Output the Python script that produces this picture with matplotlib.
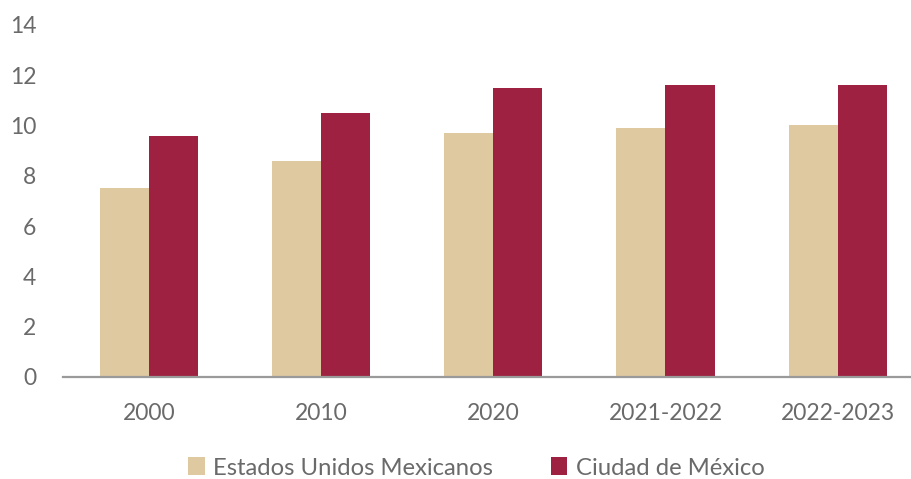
import numpy as np
import matplotlib.pyplot as plt

# Data
categories = ['2000', '2010', '2020', '2021-2022', '2022-2023']
estados_unidos = [7.5, 8.6, 9.7, 9.9, 10.0]
ciudad_mexico = [9.6, 10.5, 11.5, 11.6, 11.6]

BEIGE = '#DFC9A1'
RED = '#9E2141'
TEXT = '#6a6a6a'

plt.rcParams['font.family'] = ['Lato', 'DejaVu Sans']

fig = plt.figure(figsize=(9.11, 4.79), dpi=100)
# the plot area runs a little past the right edge, as in the original
ax = fig.add_axes([0.069, 0.213, 0.945, 0.735])

x = np.arange(len(categories))
w = 0.285
ax.bar(x - w / 2, estados_unidos, w, color=BEIGE, label='Estados Unidos Mexicanos')
ax.bar(x + w / 2, ciudad_mexico, w, color=RED, label='Ciudad de México')

ax.set_xlim(-0.5, len(categories) - 0.5)
ax.set_ylim(0, 14)
ax.set_yticks(range(0, 15, 2))
ax.set_xticks(x)
ax.set_xticklabels(categories)

for side in ['top', 'right', 'left']:
    ax.spines[side].set_visible(False)
ax.spines['bottom'].set_color('#9a9a9a')
ax.spines['bottom'].set_linewidth(1.6)

ax.tick_params(axis='both', length=0, labelsize=16.5, labelcolor=TEXT)
ax.tick_params(axis='x', pad=19)
ax.tick_params(axis='y', pad=19)

fig.legend(loc='center', bbox_to_anchor=(0.523, 0.023), ncol=2, frameon=False,
           fontsize=17.2, handlelength=0.7, handleheight=0.75, handletextpad=0.35,
           columnspacing=2.4, labelcolor=TEXT)

plt.savefig('out.png', dpi=100)
plt.close()
